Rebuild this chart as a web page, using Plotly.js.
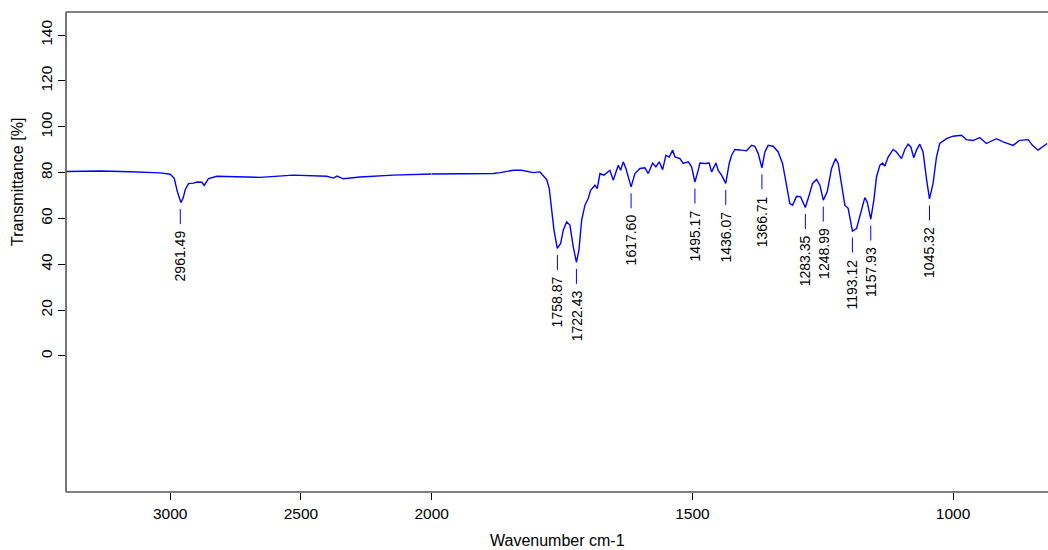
<!DOCTYPE html>
<html>
<head>
<meta charset="utf-8">
<script src="https://cdn.plot.ly/plotly-3.0.1.min.js"></script>
<style>html,body{margin:0;padding:0;background:#fff;}#chart{width:1048px;height:550px;}</style>
</head>
<body>
<div id="chart"></div>
<script>
// Spectrum, high-wavenumber part (compressed scale, 3400-2000 cm-1)
const wnHigh = [3398.6, 3267.5, 3152.8, 3038.2, 3000, 2984.7, 2973.3, 2959.1, 2950.3, 2942.7, 2930, 2911, 2896.8, 2878.9, 2870, 2853.6, 2821.5, 2656, 2530, 2401, 2376, 2362, 2338, 2274, 2147, 2019, 2000];
const trHigh = [80.5, 80.7, 80.4, 79.9, 79.3, 77.5, 72.0, 66.9, 69.0, 72.5, 75.2, 75.4, 75.9, 75.8, 74.4, 77.4, 78.4, 77.9, 78.9, 78.4, 77.6, 78.5, 77.3, 78.1, 78.9, 79.3, 79.4];

// Spectrum, low-wavenumber part (expanded scale, 2000-818 cm-1)
const wnLow = [2000, 1945.7, 1881.9, 1869, 1843.6, 1827.5, 1805.2, 1792.4, 1779.5, 1774.5, 1770, 1765.5, 1759.2, 1752.7, 1747.7, 1741.2, 1734.9, 1728.5, 1722.4, 1717.6, 1712.4, 1706.1, 1699.8, 1695.2, 1686.9, 1682.5, 1677.3, 1669.7, 1658.2, 1651.8, 1642.2, 1637.6, 1632.6, 1627.5, 1617.6, 1610.2, 1600.6, 1591, 1584.7, 1576.3, 1570, 1563.6, 1557.1, 1550.8, 1544.5, 1537.9, 1533.5, 1523.9, 1517.6, 1508, 1501.5, 1495.2, 1488.9, 1485.6, 1476, 1467.8, 1463.2, 1454.9, 1450.5, 1444, 1436.1, 1429.4, 1424.9, 1418.5, 1408.9, 1396.1, 1386.5, 1380.2, 1373.8, 1366.7, 1361, 1354.6, 1345.1, 1335.5, 1327.1, 1320.7, 1313.1, 1307.9, 1300.2, 1292.5, 1283.4, 1276, 1269.6, 1261.9, 1255.5, 1249, 1241.5, 1233.1, 1225.4, 1220.4, 1213.9, 1207.6, 1201.3, 1193.1, 1185.2, 1175.6, 1169.3, 1164.8, 1157.9, 1152, 1146.9, 1140.5, 1135.4, 1131, 1124.6, 1115, 1108.6, 1099, 1092.6, 1086.3, 1081.1, 1075.4, 1070.3, 1063.9, 1057.6, 1051.1, 1045.3, 1038.4, 1031.9, 1025.6, 1012.8, 1000.1, 984, 974.4, 961.8, 949, 936.1, 917, 904.1, 885, 872.2, 856.2, 847.8, 837, 827.5, 819.8];
const trLow = [79.4, 79.6, 79.6, 80.0, 81.0, 81.0, 80.0, 80.3, 77.0, 73.0, 65.1, 54.9, 46.9, 49.1, 54.9, 58.5, 57.1, 47.6, 40.8, 46.2, 59.3, 65.8, 68.7, 72.3, 74.5, 73.0, 79.6, 78.9, 81.0, 76.7, 83.2, 81.0, 84.7, 81.8, 73.8, 79.6, 81.8, 82.1, 79.6, 84.2, 82.5, 84.7, 81.3, 87.6, 86.8, 89.8, 86.8, 86.1, 84.0, 84.7, 82.5, 75.9, 81.0, 84.2, 84.0, 84.2, 80.3, 84.2, 81.0, 78.9, 75.3, 84.0, 87.6, 90.1, 89.9, 89.5, 91.9, 91.5, 88.3, 82.1, 89.0, 91.9, 91.5, 89.0, 84.0, 76.7, 66.5, 65.8, 69.7, 69.4, 64.8, 70.2, 75.3, 77.0, 74.5, 68.0, 71.6, 81.8, 86.1, 84.0, 73.8, 65.8, 64.4, 54.5, 55.6, 63.6, 69.1, 67.2, 59.7, 68.0, 78.1, 83.2, 84.2, 82.8, 86.8, 90.1, 89.0, 86.1, 90.1, 92.4, 91.2, 86.5, 89.8, 92.4, 89.0, 77.4, 68.5, 75.3, 86.8, 92.7, 94.8, 95.9, 96.3, 94.4, 94.0, 95.3, 92.7, 94.8, 93.4, 91.9, 94.1, 94.4, 91.9, 89.8, 91.2, 92.7];

// Labelled peaks
const peakWn = [2961.49, 1758.87, 1722.43, 1617.60, 1495.17, 1436.07, 1366.71, 1283.35, 1248.99, 1193.12, 1157.93, 1045.32];
const peakTr = [66.9, 46.9, 40.8, 73.8, 75.9, 75.3, 82.1, 64.8, 68.0, 54.5, 59.7, 68.5];
const peakLabels = ["2961.49", "1758.87", "1722.43", "1617.60", "1495.17", "1436.07", "1366.71", "1283.35", "1248.99", "1193.12", "1157.93", "1045.32"];

// Axis ticks
const yTicks = [0, 20, 40, 60, 80, 100, 120, 140];
const xTicksHigh = [3000, 2500, 2000];
const xTicksLow = [1500, 1000];

const FONT = '"Liberation Sans", Arial, sans-serif';
const lineStyle = {color: '#0000ff', width: 1.4};

const traces = [
  {x: wnHigh, y: trHigh, xaxis: 'x', yaxis: 'y', type: 'scatter', mode: 'lines', line: lineStyle, hoverinfo: 'x+y'},
  {x: wnLow, y: trLow, xaxis: 'x2', yaxis: 'y', type: 'scatter', mode: 'lines', line: lineStyle, hoverinfo: 'x+y'}
];

const split = (431.7 - 66) / (1048 - 66);

const shapes = [];
const annotations = [];
peakWn.forEach((w, i) => {
  const xr = w > 2000 ? 'x' : 'x2';
  shapes.push({type: 'line', xref: xr, yref: 'y', ysizemode: 'pixel', yanchor: peakTr[i],
    x0: w, x1: w, y0: -6.5, y1: -21.5, line: {color: '#0000ff', width: 1}});
  annotations.push({x: w, y: peakTr[i], xref: xr, yref: 'y', text: peakLabels[i], showarrow: false,
    textangle: -90, xanchor: 'center', yanchor: 'top', yshift: -26,
    font: {family: FONT, size: 14, color: '#000'}});
});

// frame (left, top, bottom)
const frameLine = {color: '#555', width: 1.6};
shapes.push({type: 'line', xref: 'paper', yref: 'paper', x0: 0, x1: 0, y0: 0, y1: 1, line: frameLine});
shapes.push({type: 'line', xref: 'paper', yref: 'paper', x0: 0, x1: 1.01, y0: 1, y1: 1, line: frameLine});
shapes.push({type: 'line', xref: 'paper', yref: 'paper', x0: 0, x1: 1.01, y0: 0, y1: 0, line: frameLine});

annotations.push({xref: 'paper', yref: 'paper', x: (18 - 66) / 982, y: (492 - 182) / 480,
  text: 'Transmittance [%]', showarrow: false, textangle: -90, xanchor: 'center', yanchor: 'middle',
  font: {family: FONT, size: 16, color: '#000'}});
annotations.push({xref: 'paper', yref: 'paper', x: 0.5, y: (492 - 540) / 480,
  text: 'Wavenumber cm-1', showarrow: false, xanchor: 'center', yanchor: 'middle',
  font: {family: FONT, size: 16, color: '#000'}});

const common = {showgrid: false, zeroline: false, showline: false, ticks: 'outside', ticklen: 7,
  tickwidth: 1, tickcolor: '#000', tickfont: {family: FONT, size: 15.5, color: '#000'}};

const layout = {
  width: 1048, height: 550,
  margin: {l: 66, r: 0, t: 12, b: 58, pad: 0},
  paper_bgcolor: '#fff', plot_bgcolor: '#fff',
  showlegend: false,
  xaxis: Object.assign({}, common, {domain: [0, split], range: [3398.6, 2000], tickmode: 'array', tickvals: xTicksHigh, ticktext: xTicksHigh.map(String), anchor: 'y'}),
  xaxis2: Object.assign({}, common, {domain: [split, 1], range: [2000, 818], tickmode: 'array', tickvals: xTicksLow, ticktext: xTicksLow.map(String), anchor: 'y'}),
  yaxis: Object.assign({}, common, {range: [-59.4, 150.1], tickmode: 'array', tickvals: yTicks, ticktext: yTicks.map(String), tickangle: -90, anchor: 'x'}),
  shapes: shapes,
  annotations: annotations
};

Plotly.newPlot('chart', traces, layout, {displayModeBar: false, staticPlot: true});
</script>
</body>
</html>
